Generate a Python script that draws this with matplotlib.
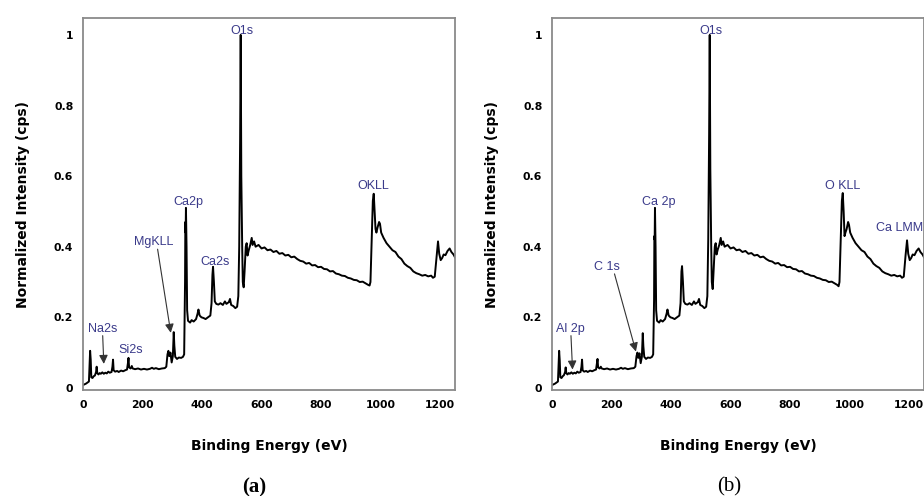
import matplotlib
matplotlib.use('Agg')
import matplotlib.pyplot as plt

plt.rcParams['font.family'] = ['Liberation Sans', 'DejaVu Sans']

# binding energy grid (eV)
energy = [0, 5, 10, 15, 20, 22, 24, 26, 28, 32, 36, 40, 44, 46, 48, 52, 56, 60, 65, 70,
          75, 80, 85, 90, 96, 99, 101, 103, 108, 115, 120, 128, 135, 142, 148, 151, 153, 155, 160, 164,
          167, 175, 185, 195, 205, 215, 225, 232, 238, 245, 255, 265, 275, 280, 284, 287, 290, 294, 298, 302,
          305, 307, 310, 316, 322, 330, 336, 340, 343, 344, 345, 346, 348, 350, 353, 360, 365, 372, 380, 385,
          388, 392, 398, 405, 412, 420, 428, 432, 435, 437, 440, 443, 448, 455, 462, 470, 477, 482, 490, 494,
          498, 505, 512, 518, 522, 525, 528, 530, 532, 535, 537, 540, 543, 547, 550, 553, 557, 562, 567, 570,
          575, 580, 590, 600, 610, 620, 630, 640, 650, 660, 670, 680, 690, 700, 710, 720, 730, 740, 750, 760,
          770, 780, 790, 800, 810, 820, 830, 840, 850, 860, 870, 880, 890, 900, 910, 920, 930, 940, 950, 958,
          963, 966, 970, 974, 977, 980, 983, 986, 990, 995, 998, 1002, 1010, 1020, 1030, 1040, 1050, 1060, 1070, 1080,
          1090, 1100, 1110, 1120, 1130, 1140, 1150, 1160, 1170, 1176, 1182, 1188, 1193, 1197, 1202, 1207, 1212, 1218, 1225, 1232,
          1238, 1245, 1250]

# sample (a)
intensity_a = [0.008, 0.010, 0.012, 0.015, 0.018, 0.060, 0.105, 0.080, 0.030, 0.028, 0.033, 0.035, 0.045, 0.060, 0.042, 0.038, 0.042, 0.040, 0.044, 0.040,
               0.043, 0.041, 0.046, 0.043, 0.045, 0.060, 0.080, 0.050, 0.046, 0.048, 0.045, 0.049, 0.047, 0.050, 0.052, 0.070, 0.085, 0.058, 0.055, 0.062,
               0.055, 0.053, 0.055, 0.052, 0.054, 0.052, 0.054, 0.057, 0.054, 0.056, 0.053, 0.055, 0.056, 0.060, 0.095, 0.105, 0.090, 0.100, 0.072, 0.090,
               0.158, 0.120, 0.088, 0.082, 0.086, 0.085, 0.088, 0.095, 0.300, 0.470, 0.440, 0.510, 0.400, 0.220, 0.190, 0.185, 0.192, 0.188, 0.195, 0.210,
               0.222, 0.205, 0.200, 0.198, 0.195, 0.200, 0.205, 0.240, 0.320, 0.343, 0.300, 0.245, 0.238, 0.236, 0.240, 0.235, 0.245, 0.238, 0.243, 0.252,
               0.235, 0.232, 0.226, 0.230, 0.260, 0.400, 0.700, 1.000, 0.600, 0.400, 0.300, 0.285, 0.330, 0.400, 0.410, 0.375, 0.390, 0.405, 0.425, 0.405,
               0.415, 0.400, 0.405, 0.395, 0.398, 0.390, 0.392, 0.385, 0.388, 0.380, 0.382, 0.375, 0.377, 0.370, 0.372, 0.365, 0.360, 0.358, 0.352, 0.354,
               0.347, 0.348, 0.342, 0.343, 0.337, 0.336, 0.330, 0.331, 0.324, 0.322, 0.318, 0.317, 0.312, 0.310, 0.306, 0.305, 0.300, 0.301, 0.296, 0.292,
               0.290, 0.300, 0.420, 0.530, 0.550, 0.500, 0.450, 0.440, 0.455, 0.470, 0.465, 0.440, 0.425, 0.410, 0.400, 0.390, 0.385, 0.372, 0.365, 0.352,
               0.345, 0.340, 0.330, 0.325, 0.322, 0.318, 0.320, 0.316, 0.318, 0.312, 0.315, 0.370, 0.415, 0.380, 0.362, 0.368, 0.378, 0.376, 0.388, 0.395,
               0.385, 0.378, 0.370]

# sample (b)
intensity_b = [0.008, 0.010, 0.012, 0.015, 0.018, 0.060, 0.105, 0.078, 0.030, 0.028, 0.033, 0.036, 0.045, 0.058, 0.042, 0.038, 0.042, 0.040, 0.044, 0.040,
               0.043, 0.041, 0.046, 0.043, 0.045, 0.060, 0.080, 0.050, 0.046, 0.048, 0.045, 0.049, 0.047, 0.050, 0.052, 0.070, 0.082, 0.058, 0.055, 0.060,
               0.055, 0.053, 0.055, 0.052, 0.054, 0.052, 0.054, 0.057, 0.054, 0.056, 0.053, 0.055, 0.056, 0.060, 0.090, 0.100, 0.085, 0.098, 0.070, 0.088,
               0.155, 0.118, 0.088, 0.082, 0.086, 0.085, 0.088, 0.095, 0.250, 0.430, 0.420, 0.510, 0.400, 0.220, 0.190, 0.185, 0.192, 0.188, 0.195, 0.210,
               0.222, 0.205, 0.200, 0.198, 0.195, 0.200, 0.205, 0.240, 0.330, 0.345, 0.300, 0.245, 0.238, 0.236, 0.240, 0.235, 0.245, 0.238, 0.243, 0.252,
               0.235, 0.232, 0.226, 0.230, 0.260, 0.420, 0.720, 1.000, 0.620, 0.400, 0.300, 0.280, 0.330, 0.400, 0.410, 0.378, 0.392, 0.405, 0.425, 0.405,
               0.415, 0.400, 0.405, 0.395, 0.398, 0.390, 0.392, 0.385, 0.388, 0.380, 0.382, 0.375, 0.377, 0.370, 0.372, 0.365, 0.360, 0.358, 0.352, 0.354,
               0.347, 0.348, 0.342, 0.343, 0.337, 0.336, 0.330, 0.331, 0.324, 0.322, 0.318, 0.317, 0.312, 0.310, 0.306, 0.305, 0.300, 0.301, 0.296, 0.292,
               0.288, 0.300, 0.420, 0.530, 0.552, 0.500, 0.430, 0.440, 0.450, 0.470, 0.462, 0.440, 0.425, 0.410, 0.400, 0.390, 0.385, 0.372, 0.365, 0.352,
               0.345, 0.340, 0.330, 0.325, 0.322, 0.318, 0.320, 0.316, 0.318, 0.312, 0.315, 0.375, 0.418, 0.380, 0.362, 0.368, 0.378, 0.376, 0.388, 0.395,
               0.385, 0.378, 0.370]

# peak labels: text, x, y  (plain labels)
labels_a = [('O1s', 535, 1.012), ('OKLL', 976, 0.572), ('Ca2p', 354, 0.528), ('Ca2s', 444, 0.358), ('Si2s', 160, 0.108)]
labels_b = [('O1s', 535, 1.012), ('O KLL', 978, 0.572), ('Ca 2p', 360, 0.528)]
# arrow labels: text, text x, text y, tip x, tip y
arrows_a = [('MgKLL', 236, 0.413, 295, 0.156), ('Na2s', 65, 0.168, 70, 0.068)]
arrows_b = [('C 1s', 186, 0.343, 282, 0.103), ('Al 2p', 62, 0.168, 69, 0.052)]

label_color = '#3a3a8a'
bold_font = 'DejaVu Sans'

fig = plt.figure(figsize=(9.24, 4.96), dpi=100)
ax_a = fig.add_axes([0.0898, 0.2137, 0.4026, 0.75])
ax_b = fig.add_axes([0.5974, 0.2137, 0.4026, 0.75])

for ax, inten, labels, arrows in [(ax_a, intensity_a, labels_a, arrows_a),
                                  (ax_b, intensity_b, labels_b, arrows_b)]:
    ax.plot(energy, inten, color='black', lw=1.4)
    ax.set_xlim(0, 1250)
    ax.set_ylim(-0.006, 1.048)
    ax.set_xticks([0, 200, 400, 600, 800, 1000, 1200])
    ax.set_yticks([0, 0.2, 0.4, 0.6, 0.8, 1])
    ax.set_yticklabels(['0', '0.2', '0.4', '0.6', '0.8', '1'])
    ax.tick_params(length=0, labelsize=7.8, pad=7)
    for lab in ax.get_xticklabels() + ax.get_yticklabels():
        lab.set_fontweight('bold')
        lab.set_family(bold_font)
    for sp in ax.spines.values():
        sp.set_color('#8a8a8a')
        sp.set_linewidth(1.3)
    ax.set_xlabel('Binding Energy (eV)', fontsize=10, fontweight='bold', family=bold_font)
    ax.set_ylabel('Normalized Intensity (cps)', fontsize=10, fontweight='bold', family=bold_font)
    ax.xaxis.set_label_coords(0.5, -0.132)
    ax.yaxis.set_label_coords(-0.142, 0.5)
    for t, x, y in labels:
        ax.text(x, y, t, color=label_color, fontsize=9, ha='center', va='center')
    for t, tx, ty, x, y in arrows:
        ax.text(tx, ty, t, color=label_color, fontsize=9, ha='center', va='center')
        ax.annotate('', xy=(x, y), xytext=(tx + (x - tx) * 0.25, ty - 0.02),
                    arrowprops=dict(arrowstyle='-|>', color='#333333', lw=0.8,
                                    mutation_scale=13, shrinkA=0, shrinkB=0))

ax_b.text(1088, 0.454, 'Ca LMM', color=label_color, fontsize=9, ha='left', va='center', clip_on=False)

fig.text(0.275, 0.018, '(a)', fontsize=15, fontweight='bold', family='Liberation Serif', ha='center', va='center')
fig.text(0.789, 0.018, '(b)', fontsize=15, family='Liberation Serif', ha='center', va='center')

fig.savefig('out.png', dpi=100)
